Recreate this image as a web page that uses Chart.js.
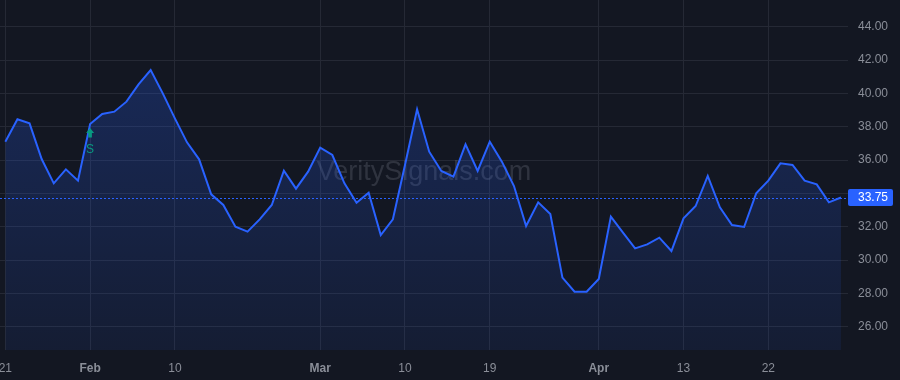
<!DOCTYPE html>
<html><head><meta charset="utf-8">
<script src="https://cdn.jsdelivr.net/npm/chart.js@4"></script>
<style>html,body{margin:0;padding:0;background:#131722;overflow:hidden}</style>
</head><body>
<canvas id="c" width="900" height="380"></canvas>
<script>
// ---- data ----
const dates = [
  '2021-01-21','2021-01-22','2021-01-25','2021-01-26','2021-01-27','2021-01-28','2021-01-29',
  '2021-02-01','2021-02-02','2021-02-03','2021-02-04','2021-02-05','2021-02-08','2021-02-09','2021-02-10','2021-02-11','2021-02-12',
  '2021-02-16','2021-02-17','2021-02-18','2021-02-19','2021-02-22','2021-02-23','2021-02-24','2021-02-25','2021-02-26',
  '2021-03-01','2021-03-02','2021-03-03','2021-03-04','2021-03-05','2021-03-08','2021-03-09','2021-03-10','2021-03-11','2021-03-12',
  '2021-03-15','2021-03-16','2021-03-17','2021-03-18','2021-03-19','2021-03-22','2021-03-23','2021-03-24','2021-03-25','2021-03-26',
  '2021-03-29','2021-03-30','2021-03-31',
  '2021-04-01','2021-04-05','2021-04-06','2021-04-07','2021-04-08','2021-04-09','2021-04-12','2021-04-13','2021-04-14','2021-04-15','2021-04-16',
  '2021-04-19','2021-04-20','2021-04-21','2021-04-22','2021-04-23','2021-04-26','2021-04-27','2021-04-28','2021-04-29','2021-04-30'
];
const prices = [
  37.10, 38.44, 38.20, 36.06, 34.60, 35.44, 34.76,
  38.16, 38.76, 38.90, 39.50, 40.54, 41.40, 40.00, 38.50, 37.06, 36.04,
  33.94, 33.30, 32.00, 31.70, 32.44, 33.30, 35.36, 34.28, 35.30,
  36.74, 36.30, 34.60, 33.44, 34.04, 31.50, 32.44, 35.70, 39.04, 36.50,
  35.34, 35.00, 36.94, 35.34, 37.10, 35.90, 34.44, 32.04, 33.46, 32.76,
  28.94, 28.10, 28.10,
  28.86, 32.60, 31.64, 30.70, 30.94, 31.34, 30.54, 32.50, 33.24, 35.04, 33.16,
  32.10, 31.98, 34.00, 34.76, 35.80, 35.70, 34.76, 34.54, 33.46, 33.75
];
const tickDates  = ['2021-01-21','2021-02-01','2021-02-10','2021-03-01','2021-03-10','2021-03-19','2021-04-01','2021-04-13','2021-04-22'];
const tickLabels = ['21','Feb','10','Mar','10','19','Apr','13','22'];
const monthLabels = ['Jan','Feb','Mar','Apr'];
const yTicks = [26, 28, 30, 32, 34, 36, 38, 40, 42, 44];
const hiddenYTicks = [34];
const signalDates = ['2021-02-01'];
const signalTexts = ['S'];
const watermark = 'VeritySignals.com';

// ---- styling ----
const BG = '#131722', GRID = '#252935', TEXT = '#8a8e98', LINE = '#2962ff', TEAL = '#089981';
const FONT = '"Liberation Sans", Arial, sans-serif';

const tickIdx = tickDates.map(d => dates.indexOf(d));
const labelAt = {};
tickIdx.forEach((ix, k) => labelAt[ix] = tickLabels[k]);
const points = prices.map((v, i) => ({x: i, y: v}));
const lastPrice = prices[prices.length - 1];

const decor = {
  id: 'decor',
  beforeDraw(chart) {
    const c = chart.ctx;
    c.save(); c.fillStyle = BG; c.fillRect(0, 0, chart.width, chart.height); c.restore();
  },
  beforeDatasetsDraw(chart) {
    const c = chart.ctx, a = chart.chartArea;
    c.save();
    c.font = '27px ' + FONT;
    c.fillStyle = 'rgba(150,155,170,0.22)';
    c.textAlign = 'center'; c.textBaseline = 'alphabetic';
    c.fillText(watermark, 424, 180);
    c.restore();
  },
  afterDatasetsDraw(chart) {
    const c = chart.ctx, a = chart.chartArea, ys = chart.scales.y, xs = chart.scales.x;
    const py = Math.round(ys.getPixelForValue(lastPrice)) + 0.5;
    c.save();
    c.strokeStyle = LINE; c.lineWidth = 1; c.setLineDash([2, 2]);
    c.beginPath(); c.moveTo(a.left, py); c.lineTo(a.right, py); c.stroke();
    c.restore();
    // signals
    signalDates.forEach((d, k) => {
      const ix = dates.indexOf(d);
      const x = xs.getPixelForValue(ix);
      const y = ys.getPixelForValue(prices[ix]) + 4;
      c.save();
      c.fillStyle = TEAL;
      c.beginPath();
      c.moveTo(x, y); c.lineTo(x + 4, y + 5); c.lineTo(x + 1.8, y + 5); c.lineTo(x + 1.8, y + 9.5);
      c.lineTo(x - 1.8, y + 9.5); c.lineTo(x - 1.8, y + 5); c.lineTo(x - 4, y + 5); c.closePath(); c.fill();
      c.font = '12px ' + FONT; c.textAlign = 'center'; c.textBaseline = 'alphabetic';
      c.fillText(signalTexts[k], x, y + 24.5);
      c.restore();
    });
  },
  afterDraw(chart) {
    const c = chart.ctx, a = chart.chartArea, ys = chart.scales.y;
    const py = ys.getPixelForValue(lastPrice);
    c.save();
    c.fillStyle = LINE;
    c.beginPath();
    if (c.roundRect) c.roundRect(a.right, py - 8.5, 45, 17, 2); else c.rect(a.right, py - 8.5, 45, 17);
    c.fill();
    c.fillStyle = '#ffffff'; c.font = '12px ' + FONT; c.textAlign = 'left'; c.textBaseline = 'middle';
    c.fillText(lastPrice.toFixed(2), a.right + 10, py + 0.5);
    c.restore();
  }
};

const ctx = document.getElementById('c').getContext('2d');
new Chart(ctx, {
  type: 'line',
  data: {
    datasets: [{
      data: points,
      borderColor: LINE,
      borderWidth: 2,
      pointRadius: 0,
      tension: 0,
      fill: 'start',
      backgroundColor: (context) => {
        const a = context.chart.chartArea;
        if (!a) return 'rgba(41,98,255,0.15)';
        const g = context.chart.ctx.createLinearGradient(0, a.top, 0, a.bottom);
        g.addColorStop(0, 'rgba(41,98,255,0.28)');
        g.addColorStop(1, 'rgba(41,98,255,0.08)');
        return g;
      }
    }]
  },
  options: {
    responsive: false,
    animation: false,
    devicePixelRatio: 1,
    layout: {padding: 0},
    plugins: {legend: {display: false}, tooltip: {enabled: false}},
    scales: {
      x: {
        type: 'linear',
        min: -0.44, max: 69.58,
        afterBuildTicks: (s) => { s.ticks = tickIdx.map(v => ({value: v})); },
        afterFit: (s) => { s.height = 30; s.paddingLeft = 0; s.paddingRight = 0; },
        grid: {color: GRID, lineWidth: 1, drawTicks: false},
        border: {display: false},
        ticks: {
          color: TEXT, padding: 11, maxRotation: 0, autoSkip: false,
          font: (c) => ({family: FONT, size: 12, weight: (c.tick && monthLabels.includes(labelAt[c.tick.value])) ? 'bold' : 'normal'}),
          callback: (v) => labelAt[v] !== undefined ? labelAt[v] : ''
        }
      },
      y: {
        position: 'right',
        min: 24.6, max: 45.6,
        afterBuildTicks: (s) => { s.ticks = yTicks.map(v => ({value: v})); },
        afterFit: (s) => { s.width = 52; s.paddingTop = 0; s.paddingBottom = 0; },
        grid: {color: GRID, lineWidth: 1, drawTicks: false},
        border: {display: false},
        ticks: {
          color: TEXT, padding: 10,
          font: {family: FONT, size: 12},
          callback: (v) => hiddenYTicks.includes(v) ? '' : Number(v).toFixed(2)
        }
      }
    }
  },
  plugins: [decor]
});
</script>
</body></html>
